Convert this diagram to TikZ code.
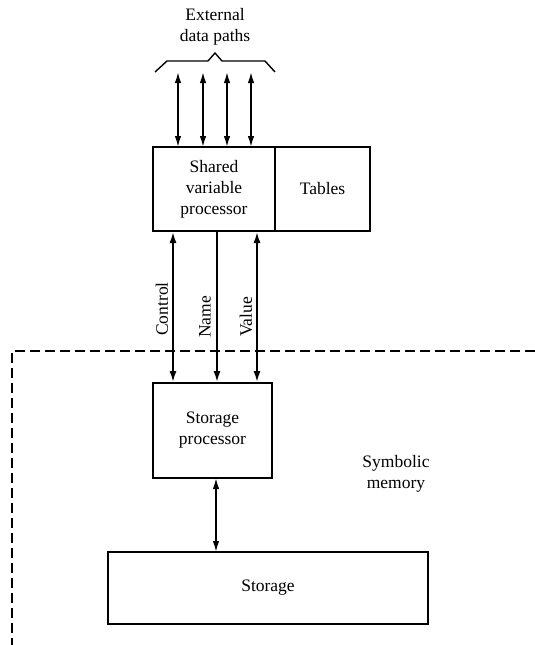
\documentclass[tikz,border=0pt]{standalone}
\usepackage{fontspec}
\setmainfont{Liberation Serif}
\usetikzlibrary{arrows.meta}
\begin{document}
\begin{tikzpicture}[x=1pt,y=-1pt,
  box/.style={draw,line width=1.8pt,inner sep=0pt,outer sep=0pt},
  lbl/.style={font=\fontsize{17.5}{21}\selectfont,align=center},
  thin arrow/.style={line width=1.6pt,{Latex[length=11pt,width=6.5pt]}-{Latex[length=11pt,width=6.5pt]}},
  bus/.style={line width=2.6pt}]
\useasboundingbox (0,0) rectangle (535,645);
% shared variable processor and tables
\node[box,minimum width=122pt,minimum height=84pt,anchor=north west] (svp) at (153,147) {};
\node[lbl] at (svp.center) {Shared\\variable\\processor};
\node[box,minimum width=95pt,minimum height=84pt,anchor=north west] (tab) at (svp.north east) {};
\node[lbl] at (tab.center) {Tables};
% external data paths
\node[lbl] (ext) at (215,27) {External\\data paths};
\draw[line width=1.4pt] (155,72) -- (167,61) -- (208,61) -- (215,53) -- (222,61) -- (265,61) -- (275,72);
\foreach \xx/\nm in {178/a,203/b,227/c,251/d}{
  \coordinate (e\nm) at (\xx,72);
  \draw[thin arrow] (e\nm) -- (e\nm |- svp.north);
}
% storage processor
\node[box,minimum width=119pt,minimum height=95pt,anchor=north west] (sp) at (153,383) {};
\node[lbl] at (sp.center) {Storage\\processor};
% buses
\draw[bus,{Latex[length=12pt,width=7pt]}-{Latex[length=12pt,width=7pt]}] (173,231) coordinate (c1) -- (c1 |- sp.north);
\draw[bus,-{Latex[length=12pt,width=7pt]}] (217,231) coordinate (c2) -- (c2 |- sp.north);
\draw[bus,{Latex[length=12pt,width=7pt]}-{Latex[length=12pt,width=7pt]}] (257,231) coordinate (c3) -- (c3 |- sp.north);
\node[lbl,rotate=90] (lc) at (162,309) {Control};
\node[lbl,rotate=90] (ln) at (205,317) {Name};
\node[lbl,rotate=90] (lv) at (246,317) {Value};
% symbolic memory boundary
\draw[line width=1.4pt,dash pattern=on 10pt off 5pt] (535,351) -- (12,351) -- (12,645);
\node[lbl] (sym) at (396,474) {Symbolic\\memory};
% storage
\node[box,minimum width=320pt,minimum height=72pt,anchor=north west] (st) at (108,552) {};
\node[lbl] at (st.center) {Storage};
\draw[thin arrow] (216,478) coordinate (s1) -- (s1 |- st.north);
\end{tikzpicture}
\end{document}
